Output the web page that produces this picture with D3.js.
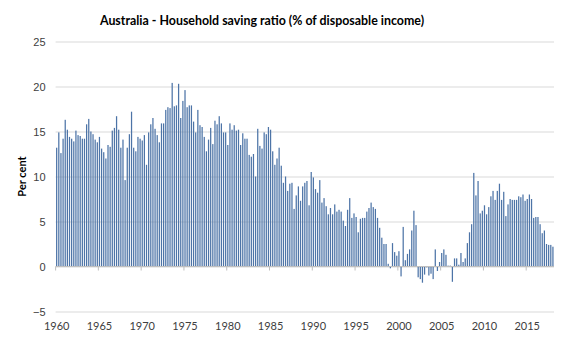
<!DOCTYPE html>
<html>
<head>
<meta charset="utf-8">
<script src="https://cdn.jsdelivr.net/npm/d3@7/dist/d3.min.js"></script>
<style>
  body { margin: 0; background: #fff; }
  svg { display: block; font-family: Lato, "Open Sans", sans-serif; }
</style>
</head>
<body>
<div id="chart"></div>
<script>
// household saving ratio, % of disposable income, quarterly from 1960 Q1
const s1960s = [13.2, 14.9, 12.6, 14.2, 16.3, 15.2, 14.4, 14.2, 13.9, 15.1,
                14.6, 14.5, 14.2, 14.2, 15.8, 16.4, 15.0, 14.7, 14.1, 13.8,
                14.4, 13.1, 12.7, 12.0, 13.5, 13.3, 15.1, 15.4, 16.7, 15.2,
                13.2, 14.1, 9.6, 13.2, 14.7, 17.2, 13.2, 12.8, 14.4, 14.2];
const s1970s = [14.0, 14.6, 11.3, 14.9, 15.8, 16.5, 15.3, 14.6, 13.8, 15.9,
                15.9, 17.4, 17.7, 17.6, 20.4, 17.8, 17.9, 20.3, 16.5, 18.4,
                19.6, 17.7, 17.9, 17.9, 16.1, 14.9, 17.4, 15.7, 15.5, 14.4,
                12.8, 14.1, 15.4, 13.6, 16.2, 15.8, 16.7, 15.9, 14.9, 14.9];
const s1980s = [13.5, 15.9, 15.2, 15.7, 15.1, 15.2, 13.5, 14.8, 14.2, 14.2,
                12.4, 12.2, 12.5, 10.0, 15.3, 13.4, 13.1, 14.9, 14.7, 15.5,
                15.2, 12.8, 11.3, 12.0, 13.2, 11.2, 9.3, 10.0, 8.4, 9.2,
                9.3, 6.4, 7.9, 8.9, 7.3, 8.9, 9.3, 9.5, 6.8, 10.5];
const s1990s = [9.9, 8.6, 8.2, 9.6, 7.1, 7.6, 6.7, 5.8, 6.5, 5.8,
                6.9, 6.1, 6.3, 6.1, 5.1, 4.5, 6.3, 7.6, 5.4, 5.9,
                5.5, 3.8, 5.3, 5.4, 5.4, 6.1, 6.5, 7.1, 6.6, 6.4,
                5.4, 4.3, 3.2, 2.5, 2.5, 0.3, -0.2, 2.6, 1.6, 1.2];
const s2000s = [1.7, -1.1, 4.4, 0.7, 1.4, 1.9, 4.0, 6.2, 4.6, -1.2,
                -1.4, -1.8, -0.9, -0.1, -1.0, -0.8, -1.4, 1.9, -0.5, 0.5,
                1.5, 1.9, 1.3, 0.1, 0.1, -1.7, 0.9, 0.9, 0.2, 1.5,
                0.5, 0.9, 2.6, 3.8, 4.7, 10.4, 7.9, 9.5, 5.9, 6.2];
const s2010s = [6.8, 5.8, 6.6, 7.8, 8.4, 7.4, 8.4, 9.2, 7.4, 8.3,
                5.6, 6.9, 7.5, 7.4, 7.4, 7.4, 7.8, 7.7, 8.0, 7.3,
                7.5, 8.0, 7.5, 5.4, 5.5, 5.5, 4.7, 3.7, 4.0, 2.5,
                2.4, 2.4, 2.2];

const startYear = 1960;
const quarterNames = ["Q1", "Q2", "Q3", "Q4"];
const yearLabels = ["1960", "1965", "1970", "1975", "1980", "1985", "1990",
                    "1995", "2000", "2005", "2010", "2015"];
const yTicks = [-5, 0, 5, 10, 15, 20, 25];

const title = "Australia - Household saving ratio (% of disposable income)";
const yTitle = "Per cent";

const values = [...s1960s, ...s1970s, ...s1980s, ...s1990s, ...s2000s, ...s2010s];
const data = values.map((v, i) => ({
	quarter: (startYear + Math.floor(i / 4)) + " " + quarterNames[i % 4],
	value: v
}));

draw_saving_chart(data);

function draw_saving_chart(dataset, width = 567, height = 340) {
	const margin = ({top: 41.5, right: 13, bottom: 28.5, left: 55.6});

	const svg = d3.select("#chart").append("svg")
		.attr("width", width)
		.attr("height", height);

	svg.append("rect").attr("width", width).attr("height", height).attr("fill", "#fff");

	const x = d3.scaleBand()
		.domain(dataset.map(d => d.quarter))
		.range([margin.left, width - margin.right])
		.paddingInner(0.42)
		.paddingOuter(0.21);

	const y = d3.scaleLinear()
		.domain([-5, 25])
		.range([height - margin.bottom, margin.top]);

	// gridlines + y labels in one go
	svg.append("g")
		.attr("transform", `translate(${margin.left},0)`)
		.call(d3.axisLeft(y).tickValues(yTicks).tickSize(-(width - margin.right - margin.left)).tickPadding(10))
		.call(g => g.select(".domain").remove())
		.call(g => g.selectAll(".tick line").attr("stroke", "#d9d9d9"))
		.call(g => g.selectAll(".tick text")
			.attr("fill", "#404040")
			.style("font-size", "11px")
			.attr("dy", "0.4em"));

	// bars go from zero, up or down
	svg.append("g").selectAll("rect")
		.data(dataset)
		.enter()
		.append("rect")
		.attr("x", d => x(d.quarter))
		.attr("width", x.bandwidth())
		.attr("y", d => y(Math.max(0, d.value)))
		.attr("height", d => Math.abs(y(d.value) - y(0)))
		.attr("fill", "#4d74a7");

	// category axis sits on the zero line, labels stay at the bottom
	const every = 20;
	const tickQuarters = dataset.filter((d, i) => i % every == 0).map(d => d.quarter);
	const step = x.step();
	const axisG = svg.append("g");
	axisG.append("line")
		.attr("x1", margin.left).attr("x2", width - margin.right)
		.attr("y1", y(0)).attr("y2", y(0))
		.attr("stroke", "#bfbfbf");
	axisG.selectAll("line.tick")
		.data(tickQuarters)
		.enter()
		.append("line")
		.attr("class", "tick")
		.attr("x1", d => x(d) - step * x.paddingInner() / 2)
		.attr("x2", d => x(d) - step * x.paddingInner() / 2)
		.attr("y1", y(0)).attr("y2", y(0) + 4)
		.attr("stroke", "#bfbfbf");

	svg.append("g").selectAll("text")
		.data(tickQuarters)
		.enter()
		.append("text")
		.attr("x", d => x(d) + x.bandwidth() / 2)
		.attr("y", height - 10)
		.attr("text-anchor", "middle")
		.attr("fill", "#404040")
		.style("font-size", "11px")
		.text((d, i) => yearLabels[i]);

	svg.append("text")
		.attr("transform", `translate(26,${(margin.top + height - margin.bottom) / 2}) rotate(-90)`)
		.attr("text-anchor", "middle")
		.style("font-size", "11px")
		.style("font-weight", "bold")
		.attr("fill", "#000")
		.text(yTitle);

	svg.append("text")
		.attr("x", 262)
		.attr("y", 25)
		.attr("text-anchor", "middle")
		.style("font-size", "12.4px")
		.style("font-weight", "bold")
		.attr("fill", "#000")
		.text(title);

	return svg.node();
}
</script>
</body>
</html>
